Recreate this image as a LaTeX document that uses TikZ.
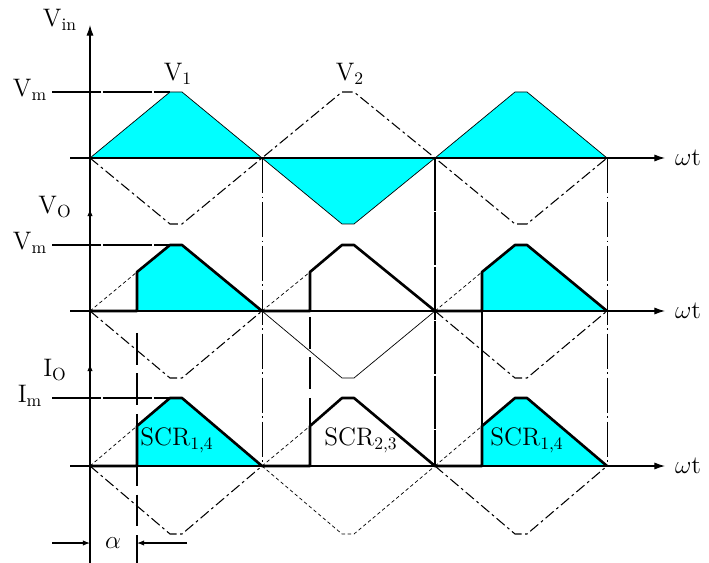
\documentclass[tikz,border=0pt]{standalone}
\usetikzlibrary{arrows.meta}
\definecolor{humpcyan}{RGB}{0,255,255}
\begin{document}
\begin{tikzpicture}[x=0.02cm,y=-0.02cm,font=\Large,
  axis/.style={semithick,-{Latex[length=6pt,width=4pt]}},
  smalltip/.style={semithick,-{Latex[length=4pt,width=3pt]}},
  outwave/.style={line width=1.5pt,line join=round},
  otherwave/.style={semithick,dash pattern=on 6pt off 2pt on 1.5pt off 2pt},
  lowwave/.style={thin,dash pattern=on 2pt off 1.5pt},
  peakline/.style={line width=1.5pt,dash pattern=on 28pt off 1pt},
  gridline/.style={thin,dash pattern=on 20pt off 2pt on 1pt off 2pt},
  firing/.style={semithick,dash pattern=on 18pt off 5pt}]
  \useasboundingbox (0,0) rectangle (709,563);
  % Input voltage
  \filldraw[fill=humpcyan,thin] (90,158) -- (170,92) -- (182,92) -- (262,158) -- cycle;
  \filldraw[fill=humpcyan,thin] (262,158) -- (342,224) -- (354,224) -- (435,158) -- cycle;
  \filldraw[fill=humpcyan,thin] (435,158) -- (515,92) -- (527,92) -- (607,158) -- cycle;
  \draw[otherwave] (90,158) -- (170,224) -- (182,224) -- (262,158) -- (342,92) -- (354,92)
    -- (435,158) -- (515,224) -- (527,224) -- (607,158);
  % Output voltage
  \fill[humpcyan] (137,311) -- (137,272) -- (170,245) -- (182,245) -- (262,311) -- cycle;
  \fill[humpcyan] (482,311) -- (482,272) -- (515,245) -- (527,245) -- (607,311) -- cycle;
  \draw[lowwave] (90,311) -- (137,272);
  \draw[lowwave] (262,311) -- (310,272);
  \draw[lowwave] (435,311) -- (482,272);
  \draw[otherwave] (90,311) -- (170,378) -- (182,378) -- (262,311);
  \draw[thin] (262,311) -- (342,378) -- (354,378) -- (435,311);
  \draw[otherwave] (435,311) -- (515,378) -- (527,378) -- (607,311);
  % Output current
  \fill[humpcyan] (137,466) -- (137,426) -- (170,398) -- (182,398) -- (262,466) -- cycle;
  \fill[humpcyan] (482,466) -- (482,426) -- (515,398) -- (527,398) -- (607,466) -- cycle;
  \draw[lowwave] (90,466) -- (137,426);
  \draw[lowwave] (262,466) -- (310,426);
  \draw[lowwave] (435,466) -- (482,426);
  \draw[otherwave] (90,466) -- (170,534) -- (182,534) -- (262,466);
  \draw[lowwave] (262,466) -- (342,534) -- (354,534) -- (435,466);
  \draw[otherwave] (435,466) -- (515,534) -- (527,534) -- (607,466);
  % Grid lines
  \draw[gridline] (262,158) -- (262,466);
  \draw[line width=1.5pt,dash pattern=on 30pt off 1pt] (435,158) -- (435,466);
  \draw[gridline] (607,158) -- (607,466);
  \draw[firing] (137,333) -- (137,563);
  \draw[firing] (310,317) -- (310,427);
  \draw[line width=1.5pt] (482,311) -- (482,426);
  % Thick waveforms
  \draw[outwave] (90,311) -- (137,311) -- (137,272) -- (170,245) -- (182,245) -- (262,311)
    -- (310,311) -- (310,272) -- (342,245) -- (354,245) -- (435,311)
    -- (482,311) -- (482,272) -- (515,245) -- (527,245) -- (607,311);
  \draw[outwave] (90,466) -- (137,466) -- (137,426) -- (170,398) -- (182,398) -- (262,466)
    -- (310,466) -- (310,426) -- (342,398) -- (354,398) -- (435,466)
    -- (482,466) -- (482,426) -- (515,398) -- (527,398) -- (607,466);
  % Peak levels
  \draw[peakline] (52,92) -- (170,92);
  \draw[peakline] (52,245) -- (170,245);
  \draw[peakline] (52,398) -- (170,398);
  % Axes
  \draw[axis] (90,563) -- (90,25);
  \draw[smalltip] (90,222) -- (90,209);
  \draw[smalltip] (90,377) -- (90,364);
  \draw[axis] (70,158) -- (665,158);
  \draw[axis] (70,311) -- (665,311);
  \draw[axis] (70,466) -- (665,466);
  % Labels
  \node (vin) at (60,20) {V\textsubscript{in}};
  \node (vone) at (178,74) {V\textsubscript{1}};
  \node (vtwo) at (350,74) {V\textsubscript{2}};
  \node (vmin) at (30,90) {V\textsubscript{m}};
  \node (vo) at (55,207) {V\textsubscript{O}};
  \node (vmout) at (30,243) {V\textsubscript{m}};
  \node (io) at (55,370) {I\textsubscript{O}};
  \node (im) at (30,396) {I\textsubscript{m}};
  \node (wtin) at (688,158) {$\omega$t};
  \node (wtout) at (688,311) {$\omega$t};
  \node (wtcur) at (688,466) {$\omega$t};
  \node (scra) at (177,440) {SCR\textsubscript{1,4}};
  \node (scrb) at (361,440) {SCR\textsubscript{2,3}};
  \node (scrc) at (527,440) {SCR\textsubscript{1,4}};
  % Firing angle
  \node (alpha) at (113,543) {$\alpha$};
  \coordinate (aleft) at (52,543);
  \coordinate (aright) at (187,543);
  \draw[smalltip] (aleft) -- (90,543);
  \draw[smalltip] (aright) -- (137,543);
\end{tikzpicture}
\end{document}
